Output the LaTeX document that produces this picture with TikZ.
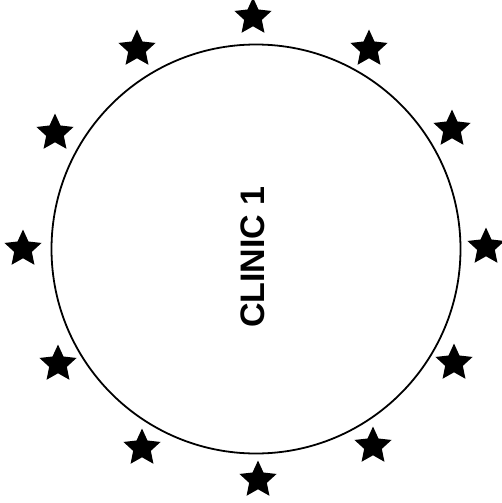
\documentclass[tikz,border=0pt]{standalone}
\usepackage{fontspec}
\setmainfont{Liberation Sans}
\usetikzlibrary{shapes.geometric}
\begin{document}
\begin{tikzpicture}[x=1pt,y=-1pt,line join=round,line cap=round,
    stella/.style={star,star points=5,star point ratio=2.1,fill,inner sep=0pt,minimum size=39pt},
    cerchio/.style={circle,draw,line width=1.8pt,inner sep=0pt,minimum size=409pt},
    scritta/.style={font=\bfseries\fontsize{34}{36}\selectfont,rotate=90,inner sep=0pt}]

  \useasboundingbox (0,0) rectangle (501,503);

  % ---- la clinica -----------------------------------------------------------
  \node[cerchio] (clinica) at (256,249) {};
  \node[scritta] (nome) at (253,257) {CLINIC 1};

  % ---- le stelle intorno ----------------------------------------------------
  \node[stella] (s1)  at (253,17)  {};
  \node[stella] (s2)  at (369,49)  {};
  \node[stella] (s3)  at (452,129) {};
  \node[stella] (s4)  at (486,247) {};
  \node[stella] (s5)  at (454,363) {};
  \node[stella] (s6)  at (373,446) {};
  \node[stella] (s7)  at (258,480) {};
  \node[stella] (s8)  at (142,448) {};
  \node[stella] (s9)  at (58,364)  {};
  \node[stella] (s10) at (23,249)  {};
  \node[stella] (s11) at (55,133)  {};
  \node[stella] (s12) at (137,49)  {};

\end{tikzpicture}
\end{document}
